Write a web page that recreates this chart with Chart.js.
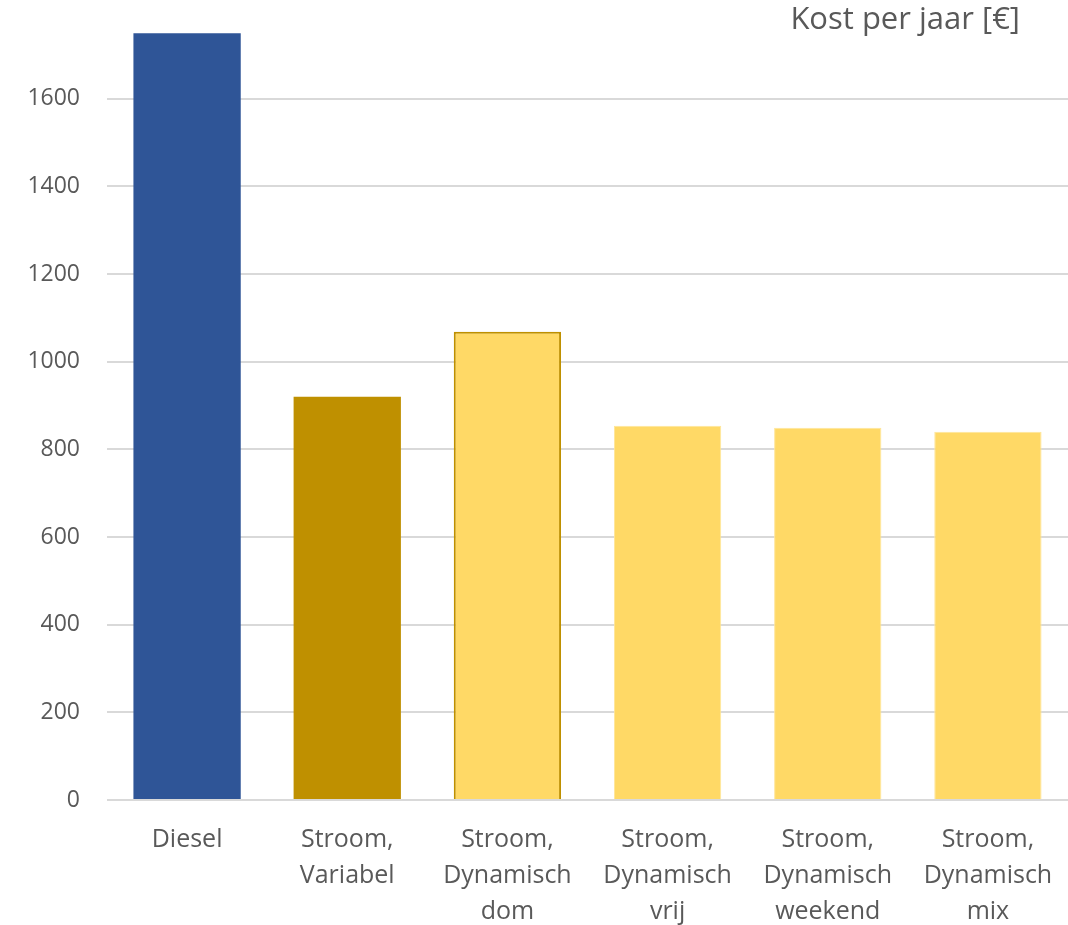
<!DOCTYPE html>
<html>
<head>
<meta charset="utf-8">
<script src="https://cdn.jsdelivr.net/npm/chart.js@4/dist/chart.umd.min.js"></script>
<style>
  html, body { margin: 0; padding: 0; background: #fff; }
  #wrap { width: 1068px; height: 925px; position: relative; }
</style>
</head>
<body>
<div id="wrap"><canvas id="c" width="1068" height="925"></canvas></div>
<script>
const categories = [
  ["Diesel"],
  ["Stroom,", "Variabel"],
  ["Stroom,", "Dynamisch", "dom"],
  ["Stroom,", "Dynamisch", "vrij"],
  ["Stroom,", "Dynamisch", "weekend"],
  ["Stroom,", "Dynamisch", "mix"]
];
const costPerYear = [1749, 920, 1068, 854, 849, 840];
const barColors = ["#2F5597", "#BF9000", "#FFD966", "#FFD966", "#FFD966", "#FFD966"];
const borderColors = ["#2F5597", "#BF9000", "#BF9000", "#FFE699", "#FFE699", "#FFE699"];
const borderWidths = [0, 0, 2, 1, 1, 1];
const yTicks = [0, 200, 400, 600, 800, 1000, 1200, 1400, 1600];
const chartTitle = "Kost per jaar [€]";

const FONT = "'Open Sans', Lato, sans-serif";
const TEXT = "#595959";

const titlePlugin = {
  id: 'cornerTitle',
  afterDraw(chart) {
    const ctx = chart.ctx;
    ctx.save();
    ctx.font = "31px " + FONT;
    ctx.fillStyle = TEXT;
    ctx.textAlign = "right";
    ctx.textBaseline = "middle";
    ctx.fillText(chartTitle, 1020, 20);
    ctx.restore();
  }
};

new Chart(document.getElementById('c'), {
  type: 'bar',
  data: {
    labels: categories,
    datasets: [{
      data: costPerYear,
      backgroundColor: barColors,
      borderColor: borderColors,
      borderWidth: borderWidths,
      categoryPercentage: 1.0,
      barPercentage: 0.67
    }]
  },
  options: {
    responsive: false,
    animation: false,
    layout: { padding: { top: 11, right: 0, left: 0, bottom: 0 } },
    plugins: { legend: { display: false }, title: { display: false }, tooltip: { enabled: false } },
    scales: {
      x: {
        grid: { display: false, drawTicks: false },
        border: { display: false },
        ticks: {
          color: TEXT,
          font: { family: FONT, size: 25, lineHeight: '36px' },
          padding: 22,
          maxRotation: 0,
          autoSkip: false
        },
        afterFit(scale) {
          scale.height = 125;
          scale.paddingTop = 0; scale.paddingBottom = 0;
          scale.paddingLeft = 0; scale.paddingRight = 0;
        }
      },
      y: {
        min: 0,
        max: 1800,
        afterBuildTicks(scale) { scale.ticks = yTicks.map(v => ({ value: v })); },
        grid: { color: "#D9D9D9", lineWidth: 2, drawTicks: false },
        border: { display: false },
        ticks: {
          color: TEXT,
          font: { family: FONT, size: 23 },
          padding: 27,
          callback: (v) => String(v)
        },
        afterFit(scale) { scale.width = 107; scale.paddingTop = 0; scale.paddingBottom = 0; }
      }
    }
  },
  plugins: [titlePlugin]
});
</script>
</body>
</html>
